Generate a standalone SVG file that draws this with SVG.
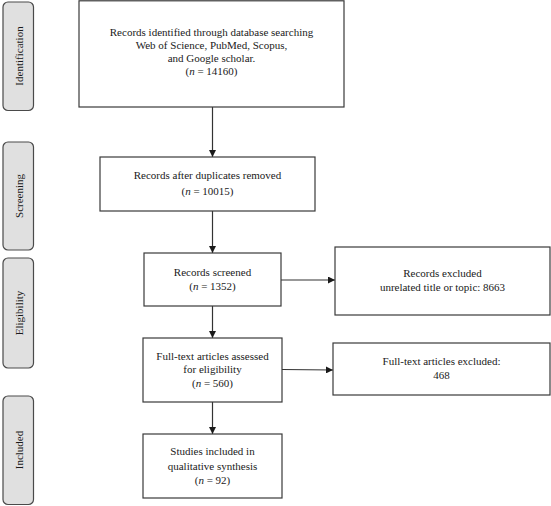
<svg xmlns="http://www.w3.org/2000/svg" width="551" height="506" viewBox="0 0 551 506">
<defs>
<style>
.box{fill:#ffffff;stroke:#3a3a3a;stroke-width:1.2}
.side{fill:#e0e0e0;stroke:#4a4a4a;stroke-width:1.2}
.t{font-family:"Liberation Serif","Times New Roman",serif;font-size:11px;fill:#1a1a1a;text-anchor:middle}
.s{font-family:"Liberation Serif","Times New Roman",serif;font-size:11px;fill:#1a1a1a;text-anchor:middle}
.c{stroke:#333333;stroke-width:1.2;fill:none;marker-end:url(#ah)}
</style>
<marker id="ah" markerUnits="userSpaceOnUse" markerWidth="8" markerHeight="7" refX="7" refY="3.5" orient="auto">
<path d="M0,0 L7,3.5 L0,7 z" fill="#1a1a1a"/>
</marker>
</defs>
<rect width="551" height="506" fill="#ffffff"/>

<g id="side-identification">
<rect class="side" x="3" y="2" width="30.5" height="108.5" rx="5"/>
<text class="s" transform="translate(22.5,56) rotate(-90)">Identification</text>
</g>
<g id="side-screening">
<rect class="side" x="3" y="142" width="30.5" height="108" rx="5"/>
<text class="s" transform="translate(22.5,196) rotate(-90)">Screening</text>
</g>
<g id="side-eligibility">
<rect class="side" x="3" y="258" width="30.5" height="110" rx="5"/>
<text class="s" transform="translate(22.5,313) rotate(-90)">Eligibility</text>
</g>
<g id="side-included">
<rect class="side" x="3" y="396" width="30.5" height="108.5" rx="5"/>
<text class="s" transform="translate(22.5,450) rotate(-90)">Included</text>
</g>

<g id="connectors">
<line class="c" x1="212.5" y1="107" x2="212.5" y2="157"/>
<line class="c" x1="212.5" y1="211" x2="212.5" y2="253"/>
<line class="c" x1="281" y1="280" x2="335" y2="280"/>
<line class="c" x1="212.5" y1="306" x2="212.5" y2="338"/>
<line class="c" x1="282" y1="369.5" x2="333" y2="370"/>
<line class="c" x1="212.5" y1="402" x2="212.5" y2="434"/>
</g>

<g id="box-identified">
<rect class="box" x="79" y="0.8" width="265" height="106.2"/>
<text class="t" x="211.5" y="36">Records identified through database searching</text>
<text class="t" x="211.5" y="49">Web of Science, PubMed, Scopus,</text>
<text class="t" x="211.5" y="61.8">and Google scholar.</text>
<text class="t" x="211.5" y="74.5">(<tspan font-style="italic">n</tspan> = 14160)</text>
</g>
<g id="box-duplicates">
<rect class="box" x="100" y="157" width="215" height="54"/>
<text class="t" x="207.5" y="179">Records after duplicates removed</text>
<text class="t" x="207.5" y="195">(<tspan font-style="italic">n</tspan> = 10015)</text>
</g>
<g id="box-screened">
<rect class="box" x="144" y="253" width="137" height="53"/>
<text class="t" x="212.5" y="276">Records screened</text>
<text class="t" x="212.5" y="289.5">(<tspan font-style="italic">n</tspan> = 1352)</text>
</g>
<g id="box-excluded">
<rect class="box" x="335" y="247" width="215" height="68"/>
<text class="t" x="442.5" y="277">Records excluded</text>
<text class="t" x="442.5" y="290.5">unrelated title or topic: 8663</text>
</g>
<g id="box-fulltext">
<rect class="box" x="143" y="338" width="139" height="64"/>
<text class="t" x="212.5" y="359.5">Full-text articles assessed</text>
<text class="t" x="212.5" y="373">for eligibility</text>
<text class="t" x="212.5" y="387">(<tspan font-style="italic">n</tspan> = 560)</text>
</g>
<g id="box-fulltext-excluded">
<rect class="box" x="333" y="343" width="217" height="52"/>
<text class="t" x="441.5" y="365">Full-text articles excluded:</text>
<text class="t" x="441.5" y="378.5">468</text>
</g>
<g id="box-included">
<rect class="box" x="143" y="434" width="139" height="64"/>
<text class="t" x="212.5" y="454.5">Studies included in</text>
<text class="t" x="212.5" y="469.5">qualitative synthesis</text>
<text class="t" x="212.5" y="484">(<tspan font-style="italic">n</tspan> = 92)</text>
</g>
</svg>
